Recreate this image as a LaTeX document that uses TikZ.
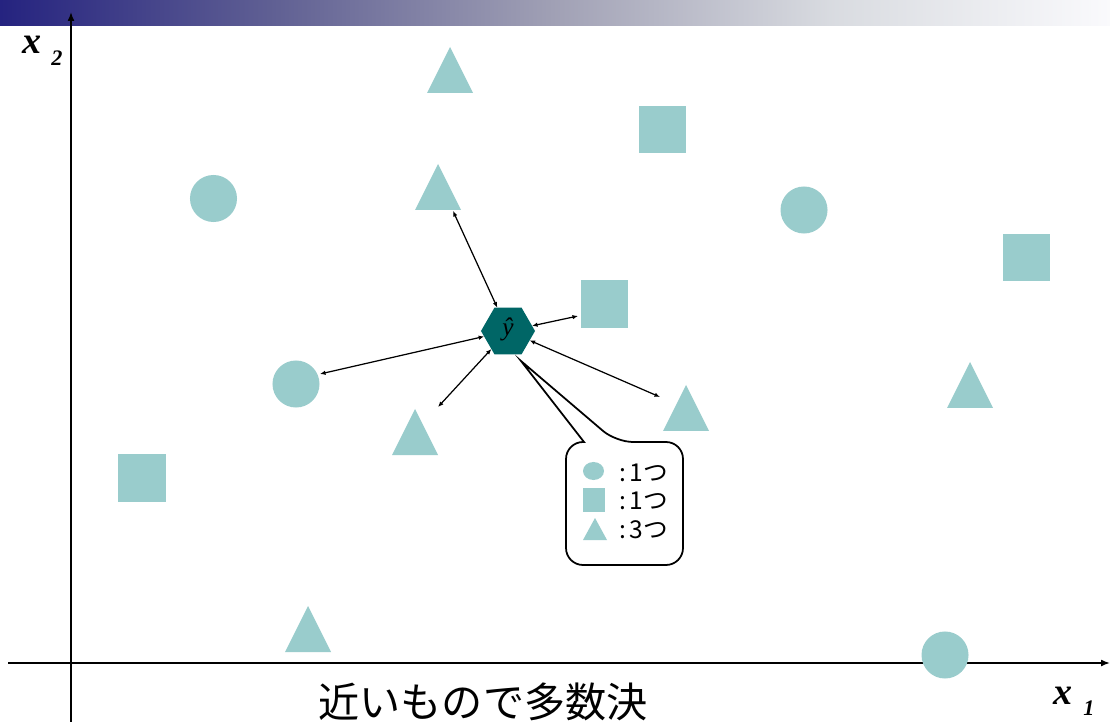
\documentclass[tikz,border=0pt]{standalone}
\usepackage{fontspec}
\setmainfont{Liberation Serif}
\newfontfamily\jpfont{Noto Sans CJK JP}
\usetikzlibrary{arrows.meta,shapes.geometric}
\definecolor{shp}{RGB}{153,204,204}
\definecolor{hexc}{RGB}{0,102,102}
\pgfdeclarehorizontalshading{topbar}{100bp}{rgb(0bp)=(0.145,0.137,0.5); rgb(25bp)=(0.145,0.137,0.5); rgb(37.5bp)=(0.38,0.38,0.58); rgb(50bp)=(0.63,0.63,0.71); rgb(62.5bp)=(0.85,0.86,0.88); rgb(75bp)=(0.98,0.98,0.99); rgb(100bp)=(0.98,0.98,0.99)}
\newcommand\mytri[3]{\coordinate (#1) at (#2,#3);
  \fill[shp] (#1) ++(-23,23) -- ++(46,0) -- ++(-23,-46) -- cycle;}
\begin{document}
\begin{tikzpicture}[x=0.01cm,y=-0.01cm,
  circ/.style={circle,fill=shp,minimum size=0.47cm,inner sep=0pt,outer sep=0pt},
  sq/.style={rectangle,fill=shp,minimum size=0.47cm,inner sep=0pt,outer sep=0pt},
  hexa/.style={regular polygon,regular polygon sides=6,fill=hexc,minimum size=0.54cm,inner sep=0pt,outer sep=0pt},
  dbl/.style={{Latex[length=0.55mm,width=0.45mm]}-{Latex[length=0.55mm,width=0.45mm]},line width=0.35pt},
  axis/.style={-{Latex[length=0.9mm,width=0.7mm]},line width=0.45pt},
  legtext/.style={anchor=west,inner sep=0pt,font=\jpfont\fontsize{7}{8}\selectfont},
  xlab/.style={inner sep=0pt,font=\fontsize{10.8}{11}\selectfont\bfseries\itshape},
  xsub/.style={inner sep=0pt,font=\fontsize{6.3}{7}\selectfont\bfseries\itshape},
  callout/.style={draw=black,fill=white,line width=0.5pt}]
\useasboundingbox (0,0) rectangle (1110,722);
\fill[white] (0,0) rectangle (1110,722);
\shade[shading=topbar] (0,0) rectangle (1110,26);

% axes
\coordinate (ybot) at (71,722);
\coordinate (ytop) at (71,12);
\coordinate (xleft) at (8,663);
\coordinate (xright) at (1110,663);
\draw[axis] (ybot) -- (ytop);
\draw[axis] (xleft) -- (xright);

\node[xlab] (x2) at (32,45) {x};
\node[xsub] (x2s) at (57,58) {2};
\node[xlab] (x1) at (1063,696) {x};
\node[xsub] (x1s) at (1089,708) {1};

% circles
\node[circ] (c1) at (213.5,198.5) {};
\node[circ] (c2) at (804,210) {};
\node[circ] (c3) at (296,384) {};
\node[circ] (c4) at (945,655) {};
% squares
\node[sq] (s1) at (662.5,129.5) {};
\node[sq] (s2) at (604,304) {};
\node[sq] (s3) at (1026.5,257.5) {};
\node[sq] (s4) at (142,478) {};
% triangles
\mytri{t1}{450}{70}
\mytri{t2}{438}{187}
\mytri{t3}{415}{432}
\mytri{t4}{686}{408}
\mytri{t5}{970}{385}
\mytri{t6}{308}{629}

% query point
\node[hexa] (hex) at (508,331) {};
\node[inner sep=0pt,font=\fontsize{7.2}{8}\selectfont\itshape] (yhat) at (508,329) {\^{y}};

% arrow ends
\coordinate (a1) at (453,211);
\coordinate (a2) at (578,316);
\coordinate (a3) at (320,374);
\coordinate (a4) at (438,407);
\coordinate (a5) at (660,397);
\draw[dbl] (hex) -- (a1);
\draw[dbl] (hex) -- (a2);
\draw[dbl] (hex) -- (a3);
\draw[dbl] (hex) -- (a4);
\draw[dbl] (hex) -- (a5);

% callout
\coordinate (tip) at (521,361);
\draw[callout] (584,442) [rounded corners=1.7mm] -- (566,442) -- (566,565) -- (683,565) -- (683,442) -- (616,442) [sharp corners] -- (tip) -- cycle;

\node[ellipse,fill=shp,minimum width=0.21cm,minimum height=0.18cm,inner sep=0pt] (lc) at (593.5,471) {};
\node[rectangle,fill=shp,minimum width=0.22cm,minimum height=0.23cm,inner sep=0pt] (ls) at (594,500) {};
\coordinate (lt) at (595,529);
\fill[shp] (lt) ++(-12,11) -- ++(24,0) -- ++(-12,-22) -- cycle;
\node[legtext] (l1) at (619,473) {:\kern0.12em 1つ};
\node[legtext] (l2) at (619,501) {:\kern0.12em 1つ};
\node[legtext] (l3) at (619,530) {:\kern0.12em 3つ};

\node[inner sep=0pt,font=\jpfont\fontsize{11.7}{12}\selectfont] (cap) at (483,702) {近いもので多数決};
\end{tikzpicture}
\end{document}
